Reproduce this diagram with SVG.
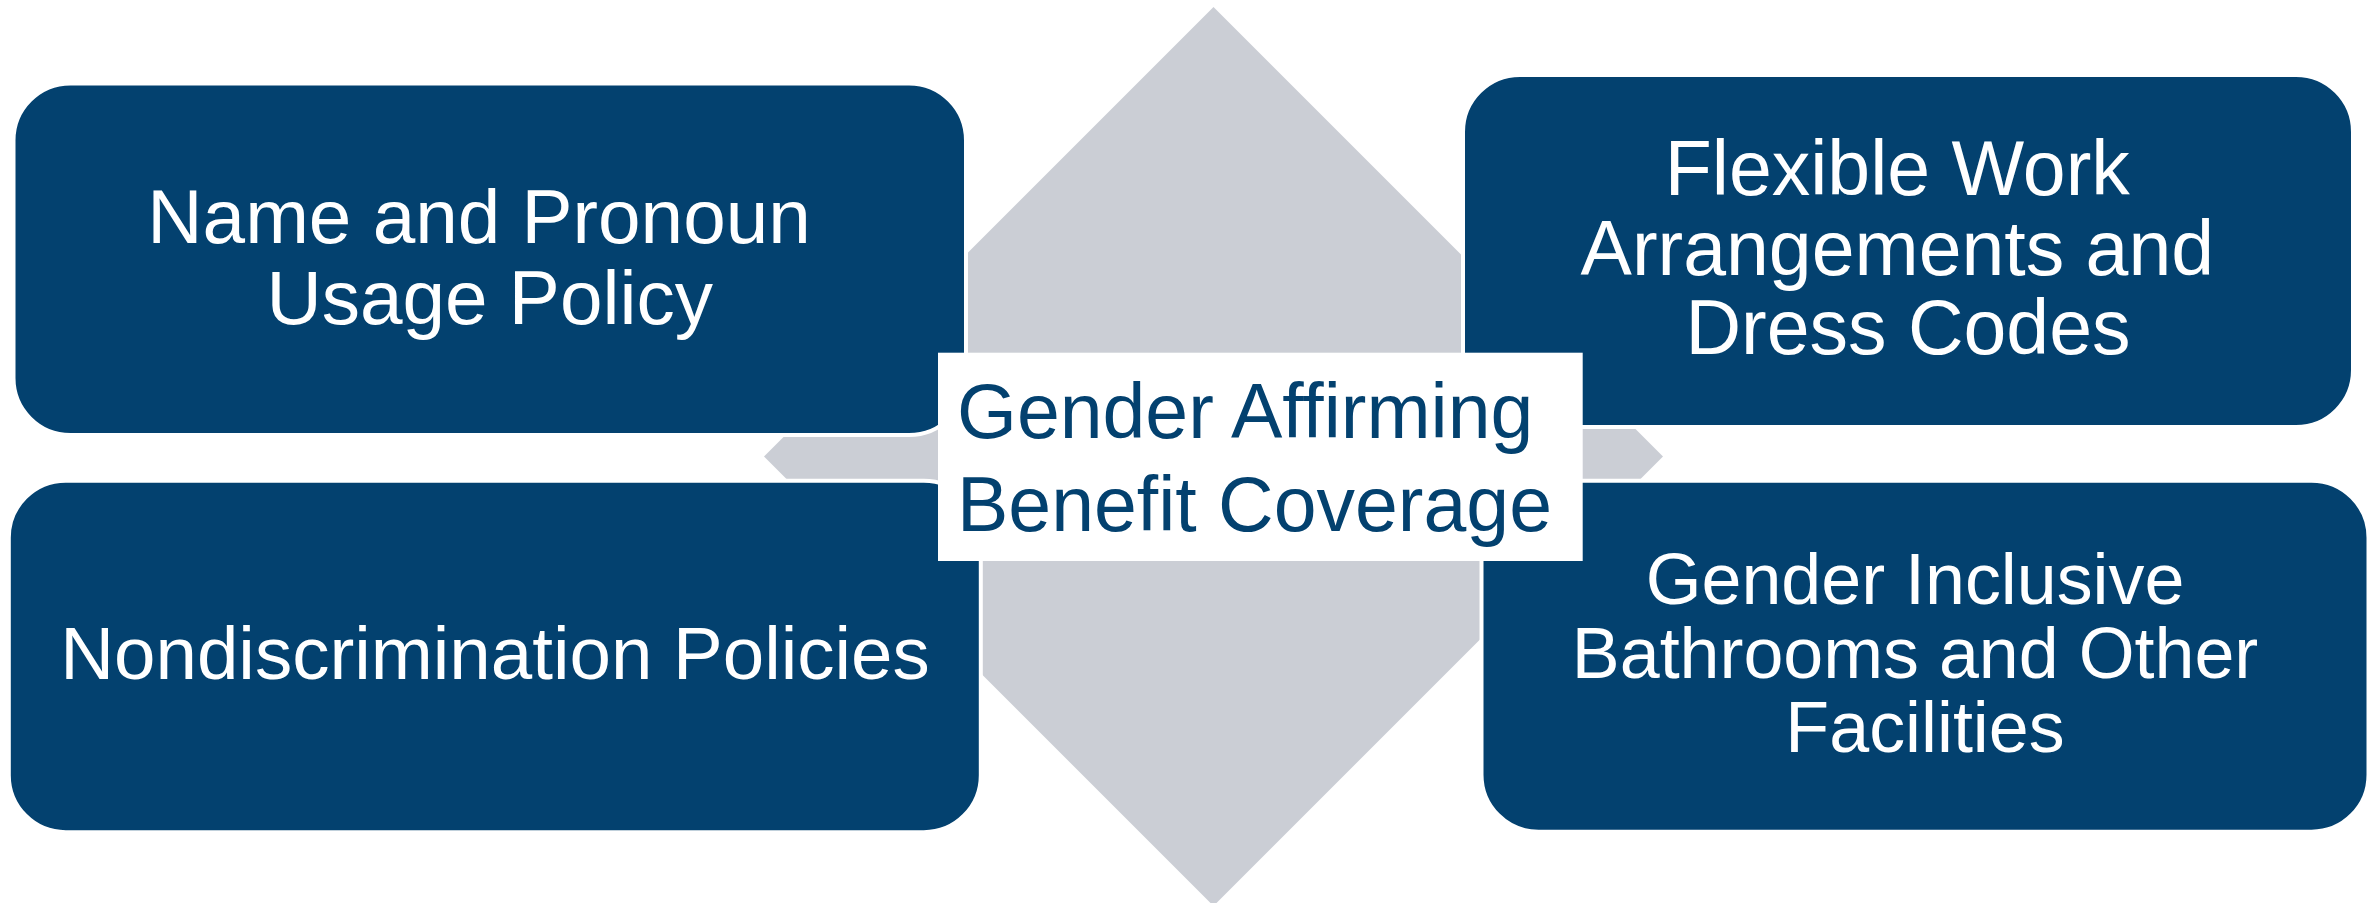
<svg xmlns="http://www.w3.org/2000/svg" width="2377" height="903" viewBox="0 0 2377 903">
  <style>
    .box { fill: #03416F; stroke: #FFFFFF; stroke-width: 4; }
    .label { font-family: "Liberation Sans", Arial, sans-serif; fill: #FFFFFF; text-anchor: middle; }
    .hub { fill: #FFFFFF; }
    .hub-label { font-family: "Liberation Sans", Arial, sans-serif; fill: #03416F; font-size: 77px; }
  </style>

  <rect width="2377" height="903" fill="#FFFFFF"/>

  <!-- grey diamond behind the four quadrants -->
  <g id="backdrop">
    <polygon points="1213.5,7 1663,456.5 1213.5,906 764,456.5" fill="#CBCED5"/>
  </g>

  <g id="connectors"></g>

  <g id="name-pronoun">
    <rect class="box" x="13.5" y="83.5" width="952.5" height="351.5" rx="57" ry="57"/>
    <text class="label" font-size="76.5" x="489.7">
      <tspan x="489.7" y="242.7">Name and Pronoun</tspan>
      <tspan x="489.7" y="323.5">Usage Policy</tspan>
    </text>
  </g>

  <g id="flexible-work">
    <rect class="box" x="1463" y="75" width="890" height="352" rx="57" ry="57"/>
    <text class="label" font-size="77" x="1908">
      <tspan x="1908" y="194.5">Flexible Work</tspan>
      <tspan x="1908" y="274.5">Arrangements and</tspan>
      <tspan x="1908" y="354">Dress Codes</tspan>
    </text>
  </g>

  <g id="nondiscrimination">
    <rect class="box" x="8.8" y="480.7" width="972" height="351.5" rx="57" ry="57"/>
    <text class="label" font-size="74.5" x="495" y="679.3">Nondiscrimination Policies</text>
  </g>

  <g id="inclusive-facilities">
    <rect class="box" x="1481.5" y="480.7" width="887" height="351" rx="57" ry="57"/>
    <text class="label" font-size="71.8" x="1925">
      <tspan x="1925" y="604">Gender Inclusive</tspan>
      <tspan x="1925" y="678.3">Bathrooms and Other</tspan>
      <tspan x="1925" y="751.7">Facilities</tspan>
    </text>
  </g>

  <g id="benefit-coverage">
    <rect class="hub" x="938" y="352.7" width="644.7" height="208.3"/>
    <text class="hub-label">
      <tspan x="957" y="438">Gender Affirming</tspan>
      <tspan x="957" y="531">Benefit Coverage</tspan>
    </text>
  </g>
</svg>
